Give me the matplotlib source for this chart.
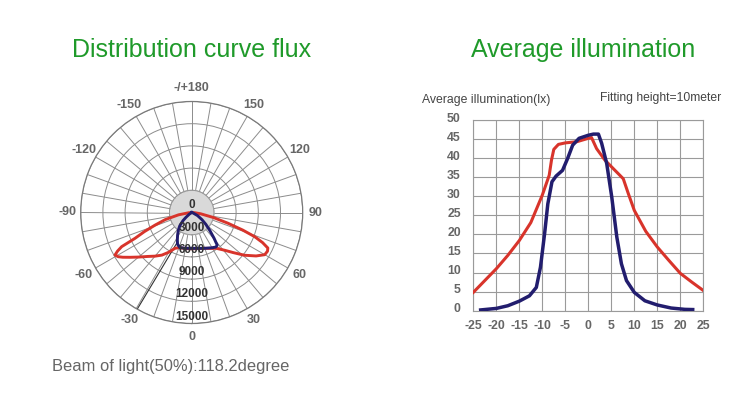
import numpy as np
import matplotlib
matplotlib.use("Agg")
import matplotlib.pyplot as plt
from matplotlib.transforms import ScaledTranslation

plt.rcParams['font.family'] = ['Liberation Sans', 'DejaVu Sans']

# ---------------- data: polar luminous intensity (cd) ----------------
red_angles = [-90, -85, -80, -75, -71, -68, -65.5, -64, -62.5, -61, -59, -57, -54, -50,
              -45, -40, -35, -30, -25, -20, -10, 0, 10, 20, 28, 34.5, 41, 46, 51, 56,
              60, 63, 65, 67, 69, 71, 73.5, 77, 82, 86, 90]
red_intensity = [0, 400, 1800, 3700, 5240, 6900, 8420, 10530, 11300, 11850, 11600, 11100,
                 10300, 9370, 8400, 7700, 7030, 6200, 5340, 5050, 4950, 4900, 4950, 5150,
                 5500, 5870, 6750, 7800, 9180, 10500, 11400, 11500, 11350, 10400, 9120,
                 7300, 5120, 3000, 1200, 400, 0]

blue_angles = [-60, -55, -50, -47, -42, -37, -32, -27.6, -24, -18.6, -10, 0, 10, 20, 30,
               35, 38, 41, 45, 50, 55, 62, 70, 75]
blue_intensity = [0, 400, 1000, 1600, 2400, 3000, 3600, 4190, 4700, 5000, 4900, 4840,
                  4920, 5150, 5500, 5700, 5600, 4600, 3500, 2500, 1700, 900, 200, 0]

ring_values = [0, 3000, 6000, 9000, 12000, 15000]
angle_ticks = [0, 30, 60, 90, 120, 150, 180, 210, 240, 270, 300, 330]
angle_labels = ['0', '30', '60', '90', '120', '150', '-/+180', '-150', '-120', '-90', '-60', '-30']

# ---------------- data: average illumination (lx) ----------------
red_x = [-25, -22.5, -20, -17.5, -15, -12.5, -10, -8.5, -8, -7.5, -6.5, -5, -2.5, 0, 0.7,
         1.8, 3.6, 5.8, 7.6, 8.7, 10, 12.5, 15, 17.5, 20, 22.5, 25]
red_y = [4.8, 7.9, 11, 14.5, 18.4, 23.1, 30.3, 35.5, 39.5, 42.3, 43.6, 44, 44.3, 45.2, 45.4,
         42.5, 39.5, 36.8, 34.6, 30.7, 26.3, 20.8, 16.7, 13.2, 9.8, 7.5, 5.3]

blue_x = [-23.4, -20, -17.5, -15, -12.8, -11.3, -10.4, -9.5, -8.8, -7.9, -7, -5.6, -4.5,
          -3.4, -2, 0, 1.1, 2.2, 2.9, 4, 5.1, 6.2, 7.2, 8.3, 10, 12.3, 15, 18, 21, 22.7]
blue_y = [0.2, 0.6, 1.3, 2.5, 3.9, 6.1, 11.4, 20.2, 28, 33.8, 35.3, 36.8, 39.9, 43.4, 45.2,
          46, 46.3, 46.3, 43.9, 38.6, 29.8, 19.3, 12.3, 7.9, 4.8, 2.6, 1.5, 0.7, 0.35, 0.3]

x_ticks = [-25, -20, -15, -10, -5, 0, 5, 10, 15, 20, 25]
x_tick_labels = ['-25', '-20', '-15', '-10', '-5', '0', '5', '10', '15', '20', '25']
y_ticks = [0, 5, 10, 15, 20, 25, 30, 35, 40, 45, 50]

RED = '#d8342b'
BLUE = '#221d6e'
GREEN = '#1f9a2a'
W, H = 753, 395

fig = plt.figure(figsize=(W / 100, H / 100), dpi=100)

# ---------------- polar chart ----------------
ax = fig.add_axes([80.7 / W, (H - 323.5) / H, 222 / W, 222 / H], projection='polar')
ax.set_theta_zero_location('S')
ax.set_theta_direction(1)
ax.set_ylim(0, 15000)
ax.set_yticks(ring_values[1:])
ax.set_yticklabels([])
ax.set_xticks(np.deg2rad(np.arange(0, 360, 10)))
ax.set_xticklabels([])
ax.set_axisbelow(True)
ax.grid(True, color='#8c8c8c', lw=0.7)
ax.spines['polar'].set_color('#7a7a7a')
ax.spines['polar'].set_linewidth(0.9)
ax.tick_params(length=0)

full = np.linspace(0, 2 * np.pi, 240)
ax.fill_between(full, 0, ring_values[1], color='#d9d9d9', zorder=1.5, lw=0)
ax.plot(full, np.full_like(full, ring_values[1]), color='#9a9a9a', lw=0.7, zorder=1.6)

# darker guide line
ax.plot(np.deg2rad([-26, -29.4]), [4630, 15000], color='#333333', lw=0.8, zorder=1.7)

ax.plot(np.deg2rad(red_angles), red_intensity, color=RED, lw=2.1, zorder=3,
        solid_joinstyle='round')
ax.plot(np.deg2rad(blue_angles), blue_intensity, color=BLUE, lw=2.1, zorder=4,
        solid_joinstyle='round')

up = ax.transData + ScaledTranslation(0, 0.07, fig.dpi_scale_trans)
for v in ring_values:
    ax.text(0, v, str(v), transform=up, ha='center', va='center', fontsize=8.5,
            fontweight='bold', color='#333333', zorder=5)

for a, lab in zip(angle_ticks, angle_labels):
    ax.text(np.deg2rad(a), 16800, lab, ha='center', va='center', fontsize=9,
            fontweight='bold', color='#666666', clip_on=False)

# ---------------- line chart ----------------
ax2 = fig.add_axes([473.3 / W, (H - 310.7) / H, 230 / W, 190.7 / H])
ax2.plot(red_x, red_y, color=RED, lw=2.2, zorder=3, solid_joinstyle='round')
ax2.plot(blue_x, blue_y, color=BLUE, lw=2.5, zorder=4, solid_joinstyle='round')
ax2.set_xlim(-25, 25)
ax2.set_ylim(0, 50)
ax2.set_xticks(x_ticks)
ax2.set_xticklabels(x_tick_labels)
ax2.set_yticks(y_ticks)
ax2.grid(True, color='#9a9a9a', lw=0.8)
ax2.set_axisbelow(True)
for s in ax2.spines.values():
    s.set_color('#9a9a9a')
    s.set_linewidth(0.8)
ax2.tick_params(length=0, labelsize=8.8, labelcolor='#666666')
ax2.tick_params(axis='x', pad=7)
ax2.tick_params(axis='y', pad=9)
for lab in ax2.get_xticklabels() + ax2.get_yticklabels():
    lab.set_fontweight('bold')
for lab in ax2.get_yticklabels():
    lab.set_transform(lab.get_transform() + ScaledTranslation(0, 0.03, fig.dpi_scale_trans))

# ---------------- texts ----------------
fig.text(192 / W, 1 - 50 / H, 'Distribution curve flux', ha='center', va='center',
         fontsize=18, color=GREEN)
fig.text(583 / W, 1 - 50 / H, 'Average illumination', ha='center', va='center',
         fontsize=18, color=GREEN)
fig.text(421.7 / W, 1 - 100 / H, 'Average illumination(lx)', ha='left', va='center',
         fontsize=8.8, color='#444444')
fig.text(600 / W, 1 - 98 / H, 'Fitting height=10meter', ha='left', va='center',
         fontsize=8.7, color='#444444')
fig.text(52 / W, 1 - 366 / H, 'Beam of light(50%):118.2degree', ha='left', va='center',
         fontsize=11.9, color='#666666')

fig.savefig('out.png', dpi=100, facecolor='white')
